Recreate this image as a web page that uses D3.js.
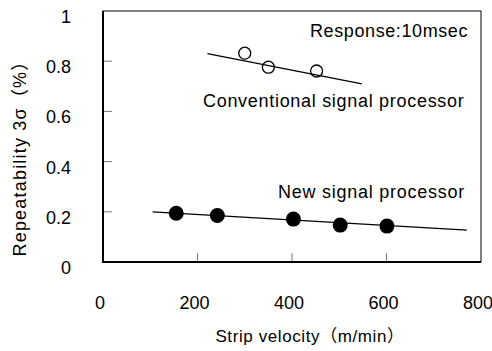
<!DOCTYPE html>
<html>
<head>
<meta charset="utf-8">
<script src="https://d3js.org/d3.v7.min.js"></script>
<style>
body { margin: 0; background: #fff; }
text { font-family: "Liberation Sans", Arial, "Noto Sans CJK JP", sans-serif; fill: #000; }
</style>
</head>
<body>
<svg id="chart" width="492" height="351"></svg>
<script>
// values
var convVel = [300, 350, 452];
var convRep = [0.832, 0.776, 0.761];
var convFit = [[221, 0.830], [548, 0.710]];

var newVel = [155, 242, 403, 502, 601];
var newRep = [0.194, 0.185, 0.171, 0.147, 0.143];
var newFit = [[105, 0.200], [770, 0.127]];

var xTicks = [0, 200, 400, 600, 800];
var yTicks = [0, 0.2, 0.4, 0.6, 0.8, 1];

var svg = d3.select("#chart");
var pl = 103, pr = 481, pt = 11, pb = 262;

var x = d3.scaleLinear().domain([0, 800]).range([pl, pr]);
var y = d3.scaleLinear().domain([0, 1]).range([pb, pt]);

// inner ticks
svg.append("g").selectAll("line")
  .data(yTicks.filter(function(d){ return d > 0 && d < 1; }))
  .join("line")
  .attr("x1", pl).attr("x2", pl + 9)
  .attr("y1", function(d){ return y(d); })
  .attr("y2", function(d){ return y(d); })
  .style("stroke", "#777").style("stroke-width", 1);

svg.append("g").selectAll("line")
  .data(xTicks.filter(function(d){ return d > 0 && d < 800; }))
  .join("line")
  .attr("x1", function(d){ return x(d); })
  .attr("x2", function(d){ return x(d); })
  .attr("y1", pb).attr("y2", pb - 9)
  .style("stroke", "#777").style("stroke-width", 1);

// frame
svg.append("rect")
  .attr("x", pl).attr("y", pt)
  .attr("width", pr - pl).attr("height", pb - pt)
  .attr("fill", "none").attr("stroke", "#000").attr("stroke-width", 1);
svg.append("path")
  .attr("d", "M" + pl + "," + pt + "V" + pb + "H" + pr)
  .attr("fill", "none").attr("stroke", "#000").attr("stroke-width", 2);

// tick labels
svg.append("g").selectAll("text")
  .data(yTicks)
  .join("text")
  .attr("x", 71)
  .attr("y", function(d){ return y(d) + 12; })
  .attr("text-anchor", "end")
  .style("font-size", "18px")
  .text(function(d){ return d3.format("")(d); });

svg.append("g").selectAll("text")
  .data(xTicks)
  .join("text")
  .attr("x", function(d){ return x(d) - 3; })
  .attr("y", 309)
  .attr("text-anchor", "middle")
  .style("font-size", "18px")
  .text(function(d){ return d; });

// axis titles
svg.append("text")
  .attr("x", 310).attr("y", 342)
  .attr("text-anchor", "middle")
  .style("font-size", "17px")
  .style("letter-spacing", "0.6px")
  .text("Strip velocity（m/min）");

svg.append("text")
  .attr("transform", "translate(26,154) rotate(-90)")
  .attr("text-anchor", "middle")
  .style("font-size", "18px")
  .style("letter-spacing", "1.2px")
  .text("Repeatability 3σ（%）");

// fit lines
var line = d3.line()
  .x(function(d){ return x(d[0]); })
  .y(function(d){ return y(d[1]); });

svg.append("path").datum(convFit).attr("d", line)
  .attr("fill", "none").attr("stroke", "#000").attr("stroke-width", 1.3);
svg.append("path").datum(newFit).attr("d", line)
  .attr("fill", "none").attr("stroke", "#000").attr("stroke-width", 1.3);

// points
svg.append("g").selectAll("circle")
  .data(convVel)
  .join("circle")
  .attr("cx", function(d){ return x(d); })
  .attr("cy", function(d, i){ return y(convRep[i]); })
  .attr("r", 6)
  .attr("fill", "none").attr("stroke", "#000").attr("stroke-width", 1.3);

svg.append("g").selectAll("circle")
  .data(newVel)
  .join("circle")
  .attr("cx", function(d){ return x(d); })
  .attr("cy", function(d, i){ return y(newRep[i]); })
  .attr("r", 7.5)
  .attr("fill", "#000");

// annotations
svg.append("text").attr("x", 310).attr("y", 37)
  .style("font-size", "18px").style("letter-spacing", "0.6px")
  .text("Response:10msec");
svg.append("text").attr("x", 203).attr("y", 107)
  .style("font-size", "18px").style("letter-spacing", "0.7px")
  .text("Conventional signal processor");
svg.append("text").attr("x", 278).attr("y", 198)
  .style("font-size", "18px").style("letter-spacing", "0.75px")
  .text("New signal processor");
</script>
</body>
</html>
